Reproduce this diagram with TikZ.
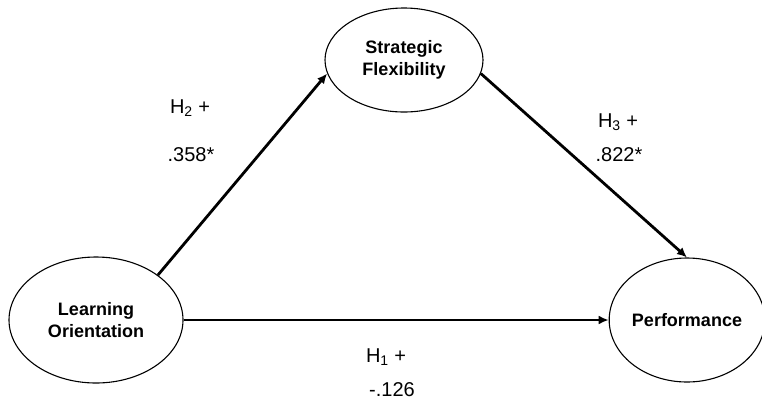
\documentclass[tikz,border=0pt]{standalone}
\usepackage{fontspec}
\setmainfont{Liberation Sans}
\usetikzlibrary{shapes.geometric,arrows.meta}

\begin{document}
\begin{tikzpicture}[x=1pt,y=-1pt]
\useasboundingbox (0,0) rectangle (762,405);
\tikzset{var/.style={ellipse,draw,line width=1.1pt,inner sep=0pt,align=center,
    font=\fontsize{18}{22}\selectfont\bfseries},
  path/.style={line width=2.8pt,-{Latex[length=10pt,width=9pt]}},
  coef/.style={font=\fontsize{20}{24}\selectfont}}
\node[var,minimum width=174pt,minimum height=126pt] (lo) at (96,320) {Learning\\Orientation};
\node[var,minimum width=158pt,minimum height=104pt] (sf) at (404,60) {Strategic\\Flexibility};
\node[var,minimum width=150pt,minimum height=124pt] (perf) at (687,320) {Performance};
\foreach \s/\t in {lo.north east/sf.190, sf.350/perf.north, lo.east/perf.west}
  \draw[path] (\s) -- (\t);

\foreach \x/\y/\n/\t in {190/108/h2/H\textsubscript{2} +, 191/155/b2/.358*, 618/122/h3/H\textsubscript{3} +, 619/155/b3/.822*, 386/357/h1/H\textsubscript{1} +, 392/390/b1/-.126}
  \node[coef] (\n) at (\x,\y) {\t};
\end{tikzpicture}
\end{document}
